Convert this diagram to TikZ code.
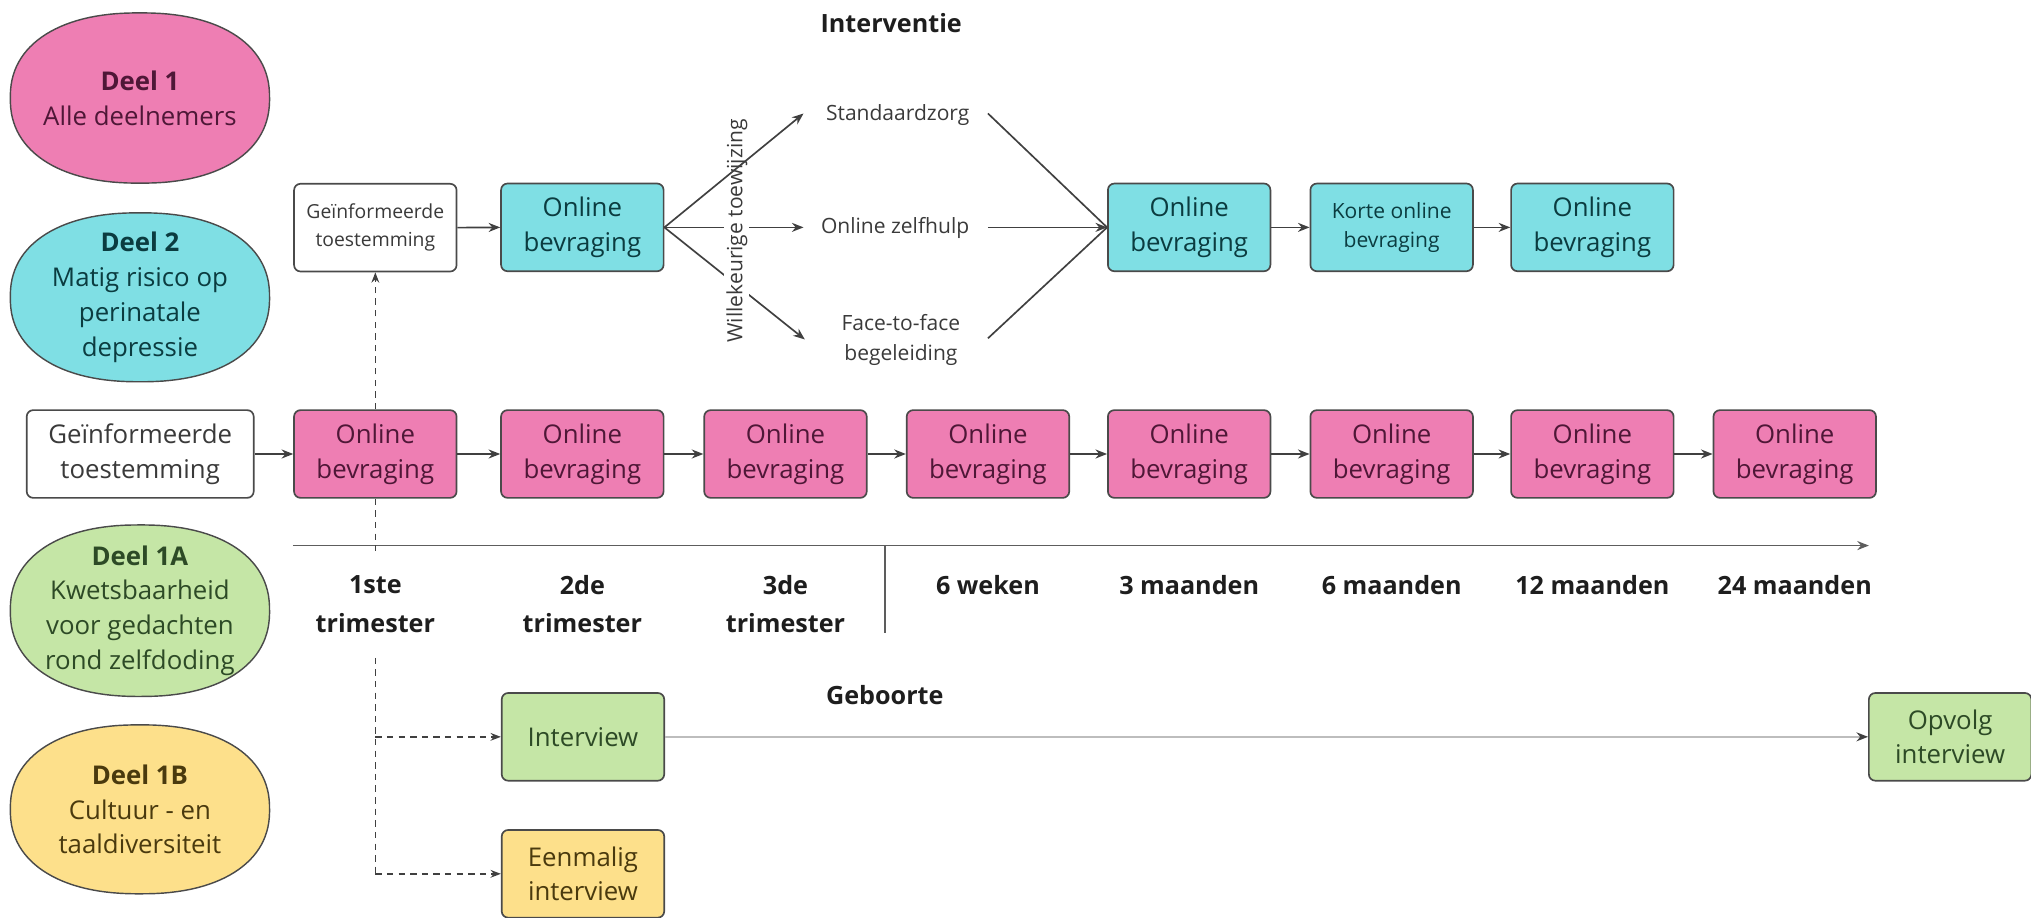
\documentclass[tikz,border=0pt]{standalone}
\usepackage{fontspec}
\setmainfont{Open Sans}
\usetikzlibrary{arrows.meta,shapes.geometric}
\definecolor{pinkf}{HTML}{EE7EB3}
\definecolor{cyanf}{HTML}{7FDFE4}
\definecolor{greenf}{HTML}{C5E6A6}
\definecolor{yellowf}{HTML}{FDE08B}
\definecolor{pinkt}{HTML}{4F1737}
\definecolor{cyant}{HTML}{0B3C40}
\definecolor{greent}{HTML}{2D4A26}
\definecolor{yellowt}{HTML}{4A3A0E}
\definecolor{graytext}{HTML}{3A3A3A}
\definecolor{labc}{HTML}{1E1E1E}
\definecolor{bord}{HTML}{4A4A4A}
\definecolor{linec}{HTML}{404040}
\definecolor{lightl}{HTML}{BDBDBD}
\begin{document}
\begin{tikzpicture}[x=1pt,y=-1pt,
  box/.style={draw=bord, line width=1.3pt, rounded corners=5pt, minimum width=126pt, minimum height=68pt, inner sep=0pt, align=center, font=\fontsize{20}{27}\selectfont},
  pbox/.style={box, fill=pinkf, text=pinkt},
  cbox/.style={box, fill=cyanf, text=cyant},
  gbox/.style={box, fill=greenf, text=greent},
  ybox/.style={box, fill=yellowf, text=yellowt},
  wbox/.style={box, fill=white, text=graytext},
  ovalanchor/.style={ellipse, draw=none, minimum width=201pt, minimum height=132pt, inner sep=0pt},
  ovaltext/.style={align=center, inner sep=0pt, font=\fontsize{20}{27}\selectfont},
  arr/.style={draw=linec, line width=1.3pt, -{Stealth[length=9pt,width=7pt]}},
  plainline/.style={draw=linec, line width=1.3pt},
  dline/.style={draw=linec, line width=1.2pt, dash pattern=on 5pt off 4pt},
  tl/.style={font=\fontsize{19.5}{29.7}\bfseries\selectfont, align=center, text=labc, inner sep=0pt},
  rtext/.style={font=\fontsize{16.3}{23}\selectfont, align=center, text=graytext, inner sep=0pt},
]
\useasboundingbox (0,0) rectangle (1574.7,711);

% title
\node[tl] (title) at (691,18) {Interventie};

% left ovals (superellipse outlines)
\foreach \cy/\col/\h in {76/pinkf/132, 230.5/cyanf/131, 473.5/greenf/133, 627.5/yellowf/131} {
  \filldraw[fill=\col, draw=bord, line width=1.1pt]
    plot[domain=1:361, samples=121]
    ({108.5 + 100.5*sign(cos(\x))*pow(abs(cos(\x)),0.88)},
     {\cy + (\h/2)*sign(sin(\x))*pow(abs(sin(\x)),0.88)}) -- cycle;
}
\node[ovalanchor] (d1) at (108.5,76) {};
\node[ovaltext, text=pinkt] (d1t) at (d1.center) {\textbf{Deel 1}\\Alle deelnemers};
\node[ovalanchor] (d2) at (108.5,230.5) {};
\node[ovaltext, text=cyant] (d2t) at (d2.center) {\textbf{Deel 2}\\Matig risico op\\perinatale\\depressie};
\node[ovalanchor] (d1a) at (108.5,473.5) {};
\node[ovaltext, text=greent] (d1at) at (d1a.center) {\textbf{Deel 1A}\\Kwetsbaarheid\\voor gedachten\\rond zelfdoding};
\node[ovalanchor] (d1b) at (108.5,627.5) {};
\node[ovaltext, text=yellowt] (d1bt) at (d1b.center) {\textbf{Deel 1B}\\Cultuur - en\\taaldiversiteit};

% top row (Deel 2)
\node[wbox, font=\fontsize{15}{21.5}\selectfont] (gi1) at (291,176.5) {Geïnformeerde\\toestemming};
\node[cbox] (c1) at (451.5,176.3) {Online\\bevraging};
\node[cbox] (c2) at (922,176.3) {Online\\bevraging};
\node[cbox, font=\fontsize{16.3}{23}\selectfont] (c3) at (1079,176.3) {Korte online\\bevraging};
\node[cbox] (c4) at (1234.6,176.3) {Online\\bevraging};

\draw[arr] (gi1.east) -- (c1.west);
\draw[arr] (c2.east) -- (c3.west);
\draw[arr] (c3.east) -- (c4.west);

% randomisation
\node[rtext] (std) at (696,89) {Standaardzorg};
\node[rtext] (ozh) at (694,176.8) {Online zelfhulp};
\node[rtext] (ftf) at (698.5,263.5) {Face-to-face\\begeleiding};
\coordinate (tA) at (623,88);
\coordinate (tB) at (623,176.3);
\coordinate (tC) at (624,263.2);
\draw[arr] (c1.east) -- (tB);
\draw[arr] (c1.east) -- (tC);
\node[rtext, rotate=90, fill=white, inner sep=1.5pt] (wt) at (571.3,179) {Willekeurige toewijzing};
\draw[arr] (c1.east) -- (tA);

\coordinate (sA) at (766,88);
\coordinate (sB) at (766,176.3);
\coordinate (sC) at (766,262.3);
\draw[plainline] (sA) -- (c2.west);
\draw[plainline] (sC) -- (c2.west);
\draw[arr] (sB) -- (c2.west);

% pink row (Deel 1)
\node[wbox, minimum width=176pt] (gi2) at (108.7,352) {Geïnformeerde\\toestemming};
\node[pbox] (p1) at (291,352) {Online\\bevraging};
\node[pbox] (p2) at (451.5,352) {Online\\bevraging};
\node[pbox] (p3) at (609,352) {Online\\bevraging};
\node[pbox] (p4) at (766,352) {Online\\bevraging};
\node[pbox] (p5) at (922,352) {Online\\bevraging};
\node[pbox] (p6) at (1079,352) {Online\\bevraging};
\node[pbox] (p7) at (1234.6,352) {Online\\bevraging};
\node[pbox] (p8) at (1391.5,352) {Online\\bevraging};
\draw[arr] (gi2.east) -- (p1.west);
\draw[arr] (p1.east) -- (p2.west);
\draw[arr] (p2.east) -- (p3.west);
\draw[arr] (p3.east) -- (p4.west);
\draw[arr] (p4.east) -- (p5.west);
\draw[arr] (p5.east) -- (p6.west);
\draw[arr] (p6.east) -- (p7.west);
\draw[arr] (p7.east) -- (p8.west);

% dashed from first measurement up to consent
\draw[dline, -{Stealth[length=8pt,width=6pt]}] (p1.north) -- (gi1.south);

% time axis
\coordinate (ax0) at (227,423);
\coordinate (ax1) at (1449,423);
\draw[arr, draw=linec!85] (ax0) -- (ax1);
\coordinate (gb0) at (686,423);
\coordinate (gb1) at (686,491);
\draw[plainline, draw=linec!85] (gb0) -- (gb1);
\node[tl] (gbl) at (686,539) {Geboorte};

% time labels
\node[tl] (l1) at (291,468.5) {1ste\\trimester};
\node[tl] (l2) at (451.5,468.5) {2de\\trimester};
\node[tl] (l3) at (609,468.5) {3de\\trimester};
\node[tl] (l4) at (766,453.7) {6 weken};
\node[tl] (l5) at (922,453.7) {3 maanden};
\node[tl] (l6) at (1079,453.7) {6 maanden};
\node[tl] (l7) at (1234.6,453.7) {12 maanden};
\node[tl] (l8) at (1391.5,453.7) {24 maanden};

% interviews
\node[gbox] (iv) at (452,571.3) {Interview};
\node[gbox] (op) at (1512,571.3) {Opvolg\\interview};
\node[ybox] (em) at (452,677.5) {Eenmalig\\interview};

\coordinate (dA) at (291,427);
\coordinate (dB) at (291,510);
\coordinate (dC) at (291,571.3);
\coordinate (dD) at (291,677.5);
\draw[dline] (p1.south) -- (dA);
\draw[dline] (dB) -- (dD);
\draw[dline, -{Stealth[length=8pt,width=6pt]}] (dC) -- (iv.west);
\draw[dline, -{Stealth[length=8pt,width=6pt]}] (dD) -- (em.west);

\draw[draw=lightl, line width=1.3pt, -{Stealth[length=9pt,width=7pt,color=linec]}] (iv.east) -- (op.west);
\end{tikzpicture}
\end{document}
